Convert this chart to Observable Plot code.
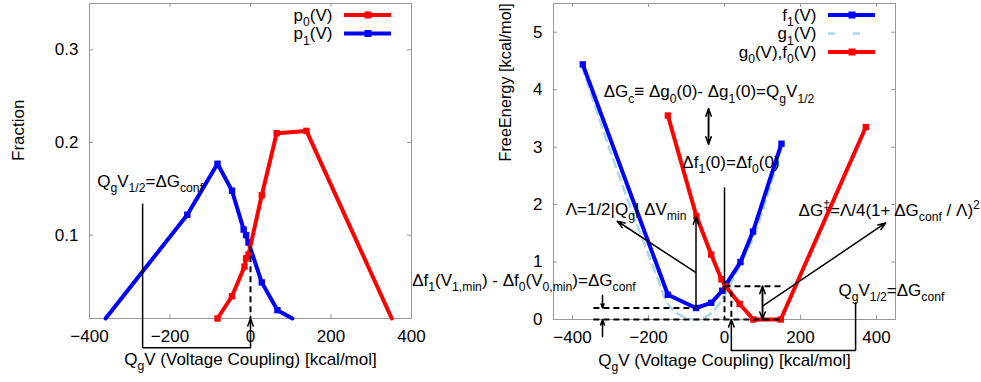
<!DOCTYPE html>
<html><head><meta charset="utf-8">
<script src="https://cdn.jsdelivr.net/npm/d3@7"></script>
<script src="https://cdn.jsdelivr.net/npm/@observablehq/plot@0.6"></script>
<style>
html,body{margin:0;padding:0;background:#fff}
#wrap{position:relative;width:981px;height:382px;overflow:hidden;background:#fff}
</style>
</head><body><div id="wrap"></div>
<script>
// ---------- data ----------
const leftTicksX = [-400, -200, 0, 200, 400];
const leftTicksY = [0.1, 0.2, 0.3];
const p0V = [-82, -46, -15, -11, -5, 28, 65, 139, 351];
const p0  = [0.01, 0.034, 0.066, 0.075, 0.079, 0.143, 0.210, 0.2125, 0.01];
const p1V = [-360, -157, -82, -46, -17, -11, -5, 28, 67, 104];
const p1  = [0.01, 0.122, 0.177, 0.148, 0.106, 0.100, 0.092, 0.049, 0.019, 0.01];

const rightTicksX = [-400, -200, 0, 200, 400];
const rightTicksY = [0, 1, 2, 3, 4, 5];
const f1V = [-373, -149, -75, -35, -6, 5, 42, 75, 150];
const f1  = [4.44, 0.43, 0.20, 0.29, 0.50, 0.62, 1.0, 1.53, 3.06];
const f0V = [-149, -74, -35, -8, 3, 40, 76, 148, 372];
const f0  = [3.55, 1.8, 1.13, 0.7, 0.58, 0.27, 0, 0, 3.35];
const g1V = [-375, -300, -225, -175, -150, -125, -100, -75, -50, -25, 0, 25, 50, 75, 100, 125, 150];
const g1  = [4.40, 2.92, 1.56, 0.70, 0.28, 0.11, 0.03, 0.0, 0.04, 0.18, 0.42, 0.74, 1.07, 1.42, 1.88, 2.42, 3.0];

const leftLegend = ["p_{0}(V)", "p_{1}(V)"];
const rightLegend = ["f_{1}(V)", "g_{1}(V)", "g_{0}(V),f_{0}(V)"];
const xLabel = "Q_{g}V (Voltage Coupling) [kcal/mol]";
const leftYLabel = "Fraction";
const rightYLabel = "FreeEnergy [kcal/mol]";

// annotations (data coordinates)
const leftNotes = [{x: -381, y: 0.158, t: "Q_{g}V_{1/2}=ΔG_{conf}"}];
const leftSolid = [{x1: -268, y1: 0.134, x2: -268, y2: -0.0216}, {x1: -268, y1: -0.0216, x2: 0, y2: -0.0216}];
const leftArrows = [{x1: 0, y1: -0.0216, x2: 0, y2: 0.01}];
const leftDashed = [{x1: 0, y1: 0.088, x2: 0, y2: 0.01}];

const rightNotes = [
  {x: -318, y: 3.96, t: "ΔG_{c}≡ Δg_{0}(0)- Δg_{1}(0)=Q_{g}V_{1/2}"},
  {x: -111, y: 2.74, t: "Δf_{1}(0)=Δf_{0}(0)"},
  {x: -418, y: 1.91, t: "Λ=1/2|Q_{g}| ΔV_{min}"},
  {x: 195, y: 1.90, t: "ΔG^{‡}=Λ/4(1+ ΔG_{conf} / Λ)^{2}"},
  {x: 300, y: 0.505, t: "Q_{g}V_{1/2}=ΔG_{conf}"}
];
const rightNotesEnd = [{x: -234, y: 0.68, t: "Δf_{1}(V_{1,min}) - Δf_{0}(V_{0,min})=ΔG_{conf}"}];
const rightSolid = [
  {x1: 0, y1: 2.3, x2: 0, y2: 0.62},
  {x1: 18, y1: -0.54, x2: 345, y2: -0.54},
  {x1: 345, y1: -0.54, x2: 345, y2: 0.3}
];
const rightArrows = [
  {x1: -42, y1: 3.05, x2: -42, y2: 3.67}, {x1: -42, y1: 3.67, x2: -42, y2: 3.05},
  {x1: -76, y1: 0.82, x2: -282, y2: 1.71},
  {x1: -75, y1: 0.2, x2: -75, y2: 1.79},
  {x1: 102, y1: 0.24, x2: 424, y2: 1.68},
  {x1: 100, y1: 0, x2: 100, y2: 0.58}, {x1: 100, y1: 0.58, x2: 100, y2: 0},
  {x1: -321, y1: 0.42, x2: -321, y2: 0.2},
  {x1: -321, y1: -0.3, x2: -321, y2: 0},
  {x1: 18, y1: -0.54, x2: 18, y2: 0}
];
const rightDashed = [
  {x1: -345, y1: 0.2, x2: -75, y2: 0.2},
  {x1: -345, y1: 0, x2: 150, y2: 0},
  {x1: 0, y1: 0.58, x2: 155, y2: 0.58},
  {x1: 0, y1: 0.58, x2: 0, y2: 0},
  {x1: 18, y1: 0.5, x2: 18, y2: 0}
];

// ---------- styling ----------
const RED = "#ff0000", BLUE = "#0000ff", LIGHT = "#a9d9ea", FRAME = "#999";
const FS = 17;
const FONT = "'Liberation Sans', Arial, Helvetica, sans-serif";
const fmt = d => (d < 0 ? "\u2212" : "") + String(Math.abs(d));

const zipXY = (xs, ys) => xs.map((x, i) => ({x, y: ys[i]}));

function inwardTicks(xt, yt, fw, fh) {
  return [
    Plot.ruleX(xt, {insetTop: fh - 4, stroke: FRAME}),
    Plot.ruleX(xt, {insetBottom: fh - 4, stroke: FRAME}),
    Plot.ruleY(yt, {insetRight: fw - 4, stroke: FRAME}),
    Plot.ruleY(yt, {insetLeft: fw - 4, stroke: FRAME})
  ];
}

function legendMarks(labels, styles) {
  const texts = labels.map((lab, i) => Plot.text([lab], {
    frameAnchor: "top-right", text: d => d, dx: -79, dy: 12 + i * 18.5,
    textAnchor: "end", lineAnchor: "middle", fontSize: FS, fill: "black"
  }));
  const sw = (index, scales, values, dim) => {
    const g = d3.create("svg:g");
    const right = dim.width - dim.marginRight, top = dim.marginTop;
    styles.forEach((s, i) => {
      const y = top + 12 + i * 18.5;
      g.append("line").attr("x1", right - 67).attr("x2", right - 20).attr("y1", y).attr("y2", y)
        .attr("stroke", s.color).attr("stroke-width", s.width)
        .attr("stroke-dasharray", s.dash || null);
      if (s.marker) {
        g.append("rect").attr("x", right - 46.5).attr("y", y - 3.5).attr("width", 7).attr("height", 7).attr("fill", s.color);
      }
    });
    return g.node();
  };
  return [...texts, sw];
}

function annotationMarks(notes, notesEnd, solid, arrows, dashed) {
  return [
    Plot.link(solid, {x1: "x1", y1: "y1", x2: "x2", y2: "y2", stroke: "black", strokeWidth: 1.5}),
    Plot.link(dashed, {x1: "x1", y1: "y1", x2: "x2", y2: "y2", stroke: "black", strokeWidth: 2, strokeDasharray: "6,4"}),
    Plot.arrow(arrows, {x1: "x1", y1: "y1", x2: "x2", y2: "y2", stroke: "black", strokeWidth: 1.5, headLength: 8, headAngle: 40}),
    Plot.text(notes, {x: "x", y: "y", text: "t", textAnchor: "start", lineAnchor: "middle", fontSize: FS, fill: "black"}),
    Plot.text(notesEnd, {x: "x", y: "y", text: "t", textAnchor: "end", lineAnchor: "middle", fontSize: FS, fill: "black"})
  ];
}

function axisLabelMarks(yLabel, yDx, yFs) {
  return [
    Plot.text([xLabel], {frameAnchor: "bottom", text: d => d, dy: 41, lineAnchor: "middle", fontSize: FS, fill: "black"}),
    Plot.text([yLabel], {frameAnchor: "left", text: d => d, dx: yDx, rotate: -90, lineAnchor: "middle", fontSize: yFs, fill: "black"})
  ];
}

// rich text: _{..} subscript, ^{..} superscript
function richify(svg) {
  svg.querySelectorAll("text").forEach(t => {
    const s = t.textContent;
    if (!/[_^]\{/.test(s)) return;
    const parts = [];
    const re = /([_^])\{([^}]*)\}/g;
    let last = 0, m;
    while ((m = re.exec(s))) {
      if (m.index > last) parts.push({k: "n", s: s.slice(last, m.index)});
      parts.push({k: m[1] === "_" ? "sub" : "sup", s: m[2]});
      last = re.lastIndex;
    }
    if (last < s.length) parts.push({k: "n", s: s.slice(last)});
    while (t.firstChild) t.removeChild(t.firstChild);
    let shift = 0;
    for (const p of parts) {
      const ts = document.createElementNS("http://www.w3.org/2000/svg", "tspan");
      const target = p.k === "sub" ? 0.3 * FS : p.k === "sup" ? -0.42 * FS : 0;
      ts.setAttribute("dy", (target - shift).toFixed(2));
      shift = target;
      if (p.k !== "n") ts.setAttribute("font-size", (0.72 * FS).toFixed(1));
      ts.textContent = p.s;
      t.appendChild(ts);
    }
  });
}

const baseStyle = {fontFamily: FONT, fontSize: FS + "px", overflow: "visible", background: "transparent", color: "black"};

// ---------- left panel ----------
const LW = 480, LH = 382, LML = 89, LMR = 69, LMT = 3, LMB = 64;
const left = Plot.plot({
  width: LW, height: LH,
  marginLeft: LML, marginRight: LMR, marginTop: LMT, marginBottom: LMB,
  style: baseStyle,
  x: {domain: [-400, 400]},
  y: {domain: [0.01, 0.35]},
  marks: [
    Plot.frame({stroke: FRAME}),
    ...inwardTicks(leftTicksX, leftTicksY, LW - LML - LMR, LH - LMT - LMB),
    Plot.axisY(leftTicksY, {tickSize: 0, tickPadding: 11, label: null, fontSize: FS, tickFormat: fmt}),
    Plot.axisX(leftTicksX, {tickSize: 0, tickPadding: 11, label: null, fontSize: FS, tickFormat: fmt}),
    ...axisLabelMarks(leftYLabel, -71, FS),
    Plot.line(zipXY(p1V, p1), {x: "x", y: "y", stroke: BLUE, strokeWidth: 4}),
    Plot.dot(zipXY(p1V, p1), {x: "x", y: "y", symbol: "square", r: 3.6, fill: BLUE, filter: d => d.y > 0.01}),
    Plot.line(zipXY(p0V, p0), {x: "x", y: "y", stroke: RED, strokeWidth: 4}),
    Plot.dot(zipXY(p0V, p0), {x: "x", y: "y", symbol: "square", r: 3.6, fill: RED, filter: d => d.y > 0.01 || d.x < 0}),
    ...annotationMarks(leftNotes, [], leftSolid, leftArrows, leftDashed),
    ...legendMarks(leftLegend, [{color: RED, width: 4, marker: true}, {color: BLUE, width: 4, marker: true}])
  ]
});

// ---------- right panel ----------
const ROFF = 480;
const RW = 501, RH = 382, RML = 73, RMR = 86, RMT = 3, RMB = 63;
const right = Plot.plot({
  width: RW, height: RH,
  marginLeft: RML, marginRight: RMR, marginTop: RMT, marginBottom: RMB,
  style: baseStyle,
  x: {domain: [-450, 450]},
  y: {domain: [0, 5.5]},
  marks: [
    Plot.frame({stroke: FRAME}),
    ...inwardTicks(rightTicksX, rightTicksY, RW - RML - RMR, RH - RMT - RMB),
    Plot.axisY(rightTicksY, {tickSize: 0, tickPadding: 11, label: null, fontSize: FS, tickFormat: fmt}),
    Plot.axisX(rightTicksX, {tickSize: 0, tickPadding: 11, label: null, fontSize: FS, tickFormat: fmt}),
    ...axisLabelMarks(rightYLabel, -48, 16.3),
    Plot.line(zipXY(g1V, g1), {x: "x", y: "y", stroke: LIGHT, strokeWidth: 2.5, strokeDasharray: "8,6", curve: "catmull-rom"}),
    Plot.line(zipXY(f1V, f1), {x: "x", y: "y", stroke: BLUE, strokeWidth: 4}),
    Plot.dot(zipXY(f1V, f1), {x: "x", y: "y", symbol: "square", r: 3.6, fill: BLUE}),
    Plot.line(zipXY(f0V, f0), {x: "x", y: "y", stroke: RED, strokeWidth: 4}),
    Plot.dot(zipXY(f0V, f0), {x: "x", y: "y", symbol: "square", r: 3.6, fill: RED}),
    ...annotationMarks(rightNotes, rightNotesEnd, rightSolid, rightArrows, rightDashed),
    ...legendMarks(rightLegend, [{color: BLUE, width: 4, marker: true}, {color: LIGHT, width: 2.5, dash: "7,18"}, {color: RED, width: 4, marker: true}])
  ]
});

const wrap = document.getElementById("wrap");
for (const [svg, x] of [[left, 0], [right, ROFF]]) {
  svg.style.position = "absolute";
  svg.style.left = x + "px";
  svg.style.top = "0px";
  wrap.appendChild(svg);
  richify(svg);
}
</script>
</body></html>
